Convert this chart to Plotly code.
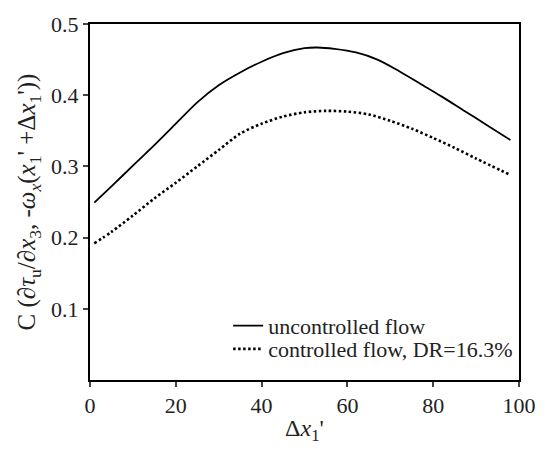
import plotly.graph_objects as go

x_unc = [1, 5, 10, 15, 20, 25, 30, 35, 40, 45, 50, 53, 57, 62, 67, 72, 77, 82, 87, 92, 98]
y_unc = [0.249, 0.272, 0.301, 0.330, 0.360, 0.390, 0.414, 0.432, 0.447, 0.459, 0.466, 0.467,
         0.465, 0.460, 0.450, 0.434, 0.416, 0.398, 0.379, 0.360, 0.337]

x_con = [1, 5, 10, 15, 20, 25, 30, 35, 40, 45, 50, 55, 60, 65, 70, 75, 80, 85, 90, 98]
y_con = [0.192, 0.208, 0.231, 0.255, 0.277, 0.300, 0.323, 0.346, 0.360, 0.370, 0.376, 0.378,
         0.377, 0.373, 0.364, 0.353, 0.340, 0.326, 0.311, 0.288]

x_ticks = [0, 20, 40, 60, 80, 100]
y_ticks = [0.1, 0.2, 0.3, 0.4, 0.5]

serif = "Liberation Serif"

fig = go.Figure()
fig.add_trace(go.Scatter(x=x_unc, y=y_unc, mode="lines", name="uncontrolled flow", legend="legend",
                         line=dict(color="black", width=1.8, shape="spline", smoothing=0.8)))
fig.add_trace(go.Scatter(x=x_con, y=y_con, mode="lines", name="controlled flow, DR=16.3%", legend="legend2",
                         line=dict(color="black", width=2.6, dash="2.5px,2.5px", shape="spline", smoothing=0.8)))

leg_common = dict(xanchor="left", yanchor="middle", bgcolor="rgba(0,0,0,0)",
                  font=dict(size=22, family=serif, color="#222"), itemwidth=30,
                  borderwidth=0)

fig.update_layout(
    width=548, height=449,
    margin=dict(l=90, r=18, t=16, b=65),
    plot_bgcolor="white", paper_bgcolor="white",
    font=dict(family=serif, size=22, color="#222"),
    showlegend=True,
    legend=dict(x=0.322, y=0.152, **leg_common),
    legend2=dict(x=0.322, y=0.087, **leg_common),
    xaxis=dict(range=[0, 100], tickvals=x_ticks, ticks="outside", ticklen=5, tickwidth=1.5,
               showline=True, linecolor="black", linewidth=2, mirror=True,
               showgrid=False, zeroline=False, tickfont=dict(size=22, family=serif),
               title=dict(text="Δ<i>x</i><sub>1</sub>'", font=dict(size=24, family=serif), standoff=2)),
    yaxis=dict(range=[0, 0.5], tickvals=y_ticks, ticktext=["0.1", "0.2", "0.3", "0.4", "0.5"],
               ticks="outside", ticklen=5, tickwidth=1.5,
               showline=True, linecolor="black", linewidth=2, mirror=True,
               showgrid=False, zeroline=False, tickfont=dict(size=22, family=serif),
               title=dict(text="C (∂<i>τ</i><sub>u</sub>/∂<i>x</i><sub>3</sub>, -<i>ω</i><sub><i>x</i></sub>(<i>x</i><sub>1</sub>' +Δ<i>x</i><sub>1</sub>'))",
                          font=dict(size=25, family=serif), standoff=8)),
)

fig.write_html("out.html")
